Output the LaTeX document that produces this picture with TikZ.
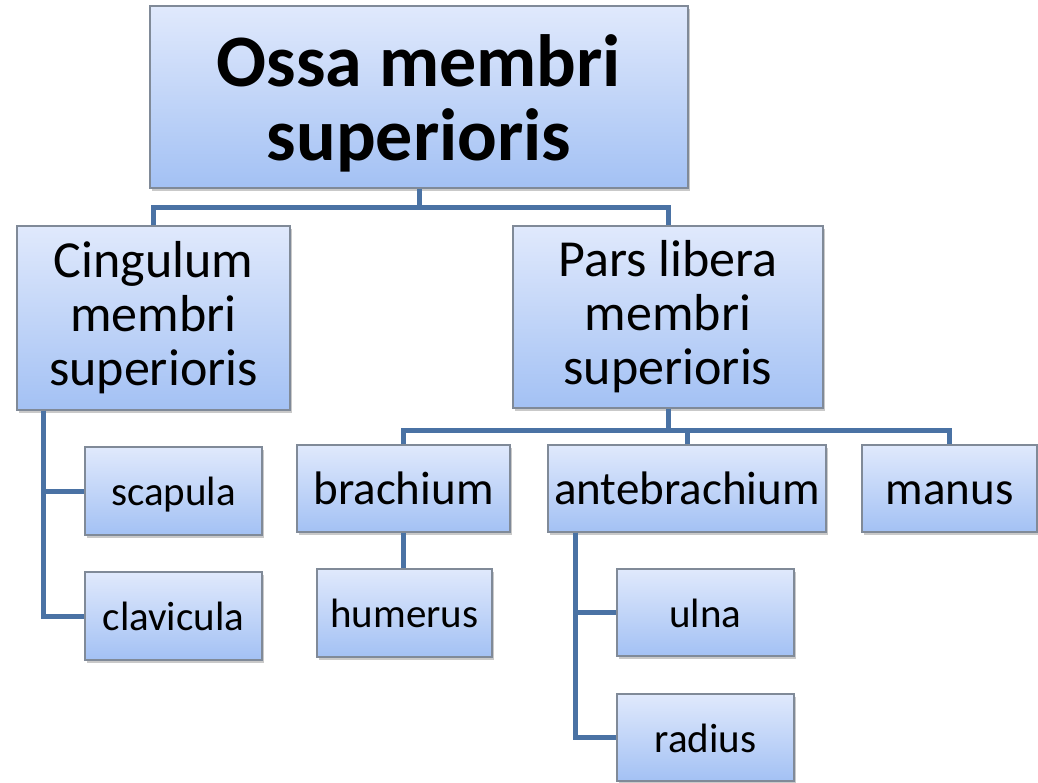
\documentclass[tikz,border=0pt]{standalone}
\usepackage{fontspec}
\setmainfont{Carlito}
\usetikzlibrary{shadows,calc}
\definecolor{boxtop}{RGB}{224,233,252}
\definecolor{boxbot}{RGB}{163,193,244}
\definecolor{boxline}{RGB}{128,138,152}
\definecolor{conn}{RGB}{74,114,164}
\tikzset{
  x=1pt, y=-1pt,
  box/.style={rectangle, draw=boxline, line width=1.2pt, top color=boxtop, bottom color=boxbot,
    inner sep=0pt, align=center, text=black,
    drop shadow={shadow xshift=2pt, shadow yshift=-3pt, opacity=0.35, fill=black!60}},
  conline/.style={draw=conn, line width=5pt, line join=miter},
  lvlone/.style={box, font=\fontsize{74}{74}\selectfont\bfseries},
  lvltwo/.style={box, font=\fontsize{52}{54}\selectfont},
  lvlthree/.style={box, font=\fontsize{47}{56}\selectfont, text height=41pt, text depth=9pt},
  lvlfour/.style={box, font=\fontsize{41}{48}\selectfont, text height=37pt, text depth=8pt},
}
\begin{document}
\begin{tikzpicture}
\useasboundingbox[fill=white] (0,0) rectangle (1038,782);
\node[lvlone, minimum width=538pt, minimum height=182pt] (top) at (419,97) {\rule{0pt}{64pt}Ossa membri\\superioris};
\node[lvltwo, minimum width=273pt, minimum height=184pt] (cing) at (153.5,318) {Cingulum\\membri\\superioris};
\node[lvltwo, minimum width=310pt, minimum height=182pt] (pars) at (668,317) {Pars libera\\membri\\superioris};
\node[lvlfour, minimum width=177pt, minimum height=88pt] (scap) at (173.5,491) {scapula};
\node[lvlfour, minimum width=177pt, minimum height=88pt] (clav) at (173.5,616) {clavicula};
\node[lvlthree, minimum width=213pt, minimum height=87pt] (brach) at (403.5,488.5) {brachium};
\node[lvlfour, minimum width=175pt, minimum height=88pt] (hum) at (404.5,613) {humerus};
\node[lvlthree, minimum width=278pt, minimum height=87pt] (ante) at (687,488.5) {antebrachium};
\node[lvlthree, minimum width=175pt, minimum height=87pt] (manus) at (949.5,488.5) {manus};
\node[lvlfour, minimum width=177pt, minimum height=87pt] (ulna) at (705.5,612.5) {ulna};
\node[lvlfour, minimum width=177pt, minimum height=87pt] (radius) at (705.5,737.5) {radius};

\coordinate (tj) at ($(top.south)+(0,19)$);
\draw[conline] (top.south) -- (tj);
\draw[conline] (cing.north) |- (tj) -| (pars.north);
\coordinate (pj) at ($(pars.south)+(0,22)$);
\draw[conline] (pars.south) -- (pj);
\draw[conline] (brach.north) |- (pj) -| (manus.north);
\draw[conline] (ante.north) -- (ante.north |- pj);
\draw[conline] (brach.south) -- (brach.south |- hum.north);
\coordinate (cl) at ($(cing.south west)+(27,0)$);
\draw[conline] (cl) |- (scap.west);
\draw[conline] (cl) |- (clav.west);
\coordinate (al) at ($(ante.south west)+(28,0)$);
\draw[conline] (al) |- (ulna.west);
\draw[conline] (al) |- (radius.west);
\end{tikzpicture}
\end{document}
